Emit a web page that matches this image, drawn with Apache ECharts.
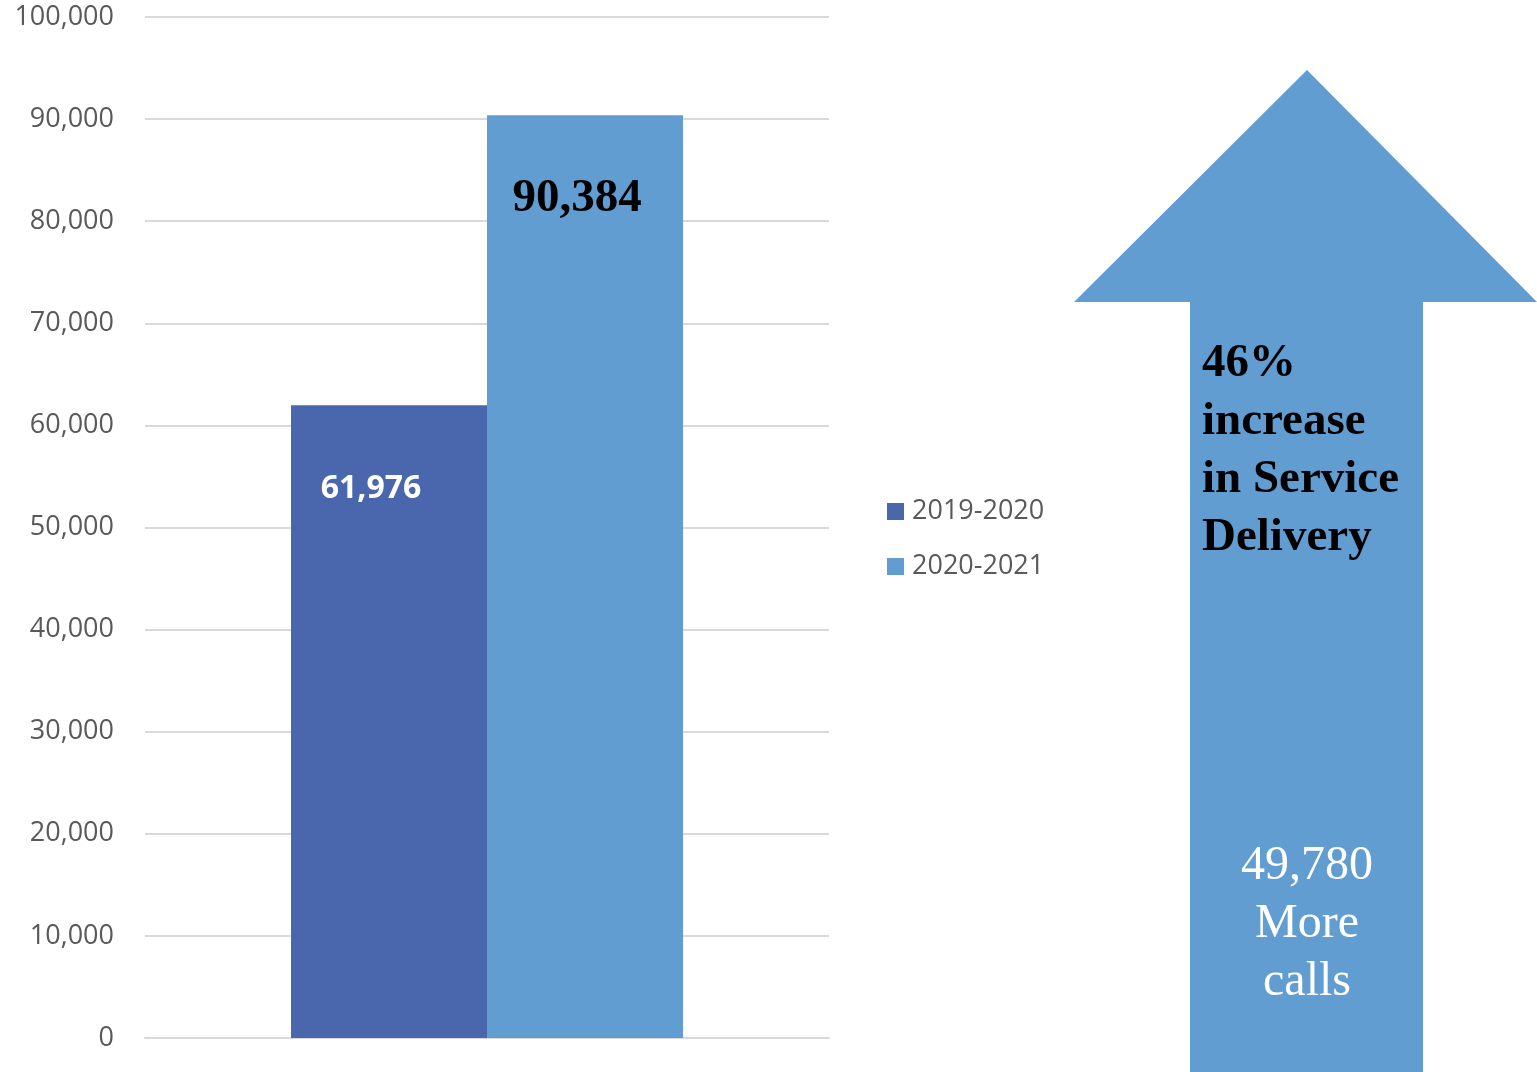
<!DOCTYPE html>
<html><head><meta charset="utf-8">
<script src="https://cdn.jsdelivr.net/npm/echarts@6/dist/echarts.min.js"></script>
<style>html,body{margin:0;padding:0;background:#fff}#c{width:1537px;height:1072px}</style>
</head><body><div id="c"></div>
<script>
const categories = ['Calls'];
const seriesNames = ['2019-2020', '2020-2021'];
const values2019 = [61976];
const values2020 = [90384];
const arrowTop = '46%\nincrease\nin Service\nDelivery';
const arrowBottom = '49,780\nMore\ncalls';

const chart = echarts.init(document.getElementById('c'));
const cLight = '#629DD1', cDark = '#4A66AC';
chart.setOption({
  animation: false,
  grid: {left: 145, right: 708, top: 17, bottom: 34},
  legend: {
    orient: 'vertical', left: 887, top: 498, itemGap: 28, padding: 0,
    itemWidth: 17, itemHeight: 17, icon: 'rect',
    textStyle: {fontFamily: 'Open Sans', fontSize: 27, color: '#595959', padding: [0,0,0,3]},
    data: seriesNames
  },
  xAxis: {type: 'category', data: categories, axisLine: {show: true, lineStyle: {color: '#D9D9D9', width: 2}},
    axisTick: {show: false}, axisLabel: {show: false}},
  yAxis: {type: 'value', min: 0, max: 100000, interval: 10000,
    axisLine: {show: false}, axisTick: {show: false},
    splitLine: {lineStyle: {color: '#D9D9D9', width: 2}},
    axisLabel: {margin: 31, fontFamily: 'Open Sans', fontSize: 27, color: '#595959', padding: [4,0,0,0],
      formatter: v => v.toLocaleString('en-US')}},
  series: [
    {name: seriesNames[0], type: 'bar', data: values2019, barWidth: 196, barGap: '0%',
     itemStyle: {color: cDark},
     label: {show: true, position: 'insideTop', distance: 68, offset: [-18, 0], color: '#fff', fontFamily: 'Open Sans',
       fontWeight: 'bold', fontSize: 32, formatter: p => p.value.toLocaleString('en-US')}},
    {name: seriesNames[1], type: 'bar', data: values2020, barWidth: 196,
     itemStyle: {color: cLight},
     label: {show: true, position: 'insideTop', distance: 60, offset: [-8, 0], color: '#000', fontFamily: 'Liberation Serif',
       fontWeight: 'bold', fontSize: 47, formatter: p => p.value.toLocaleString('en-US')}}
  ],
  graphic: [
    {type: 'polygon', z: 0, shape: {points: [[1074,302],[1307,70],[1537,302],[1423,302],[1423,1072],[1190,1072],[1190,302]]},
     style: {fill: cLight}},
    {type: 'text', left: 1202, top: 335, z: 10, style: {text: arrowTop, font: 'bold 47px "Liberation Serif"',
      fill: '#000', lineHeight: 58}},
    {type: 'text', z: 10, x: 1307, y: 837, style: {text: arrowBottom, font: '48px "Liberation Serif"',
      fill: '#fff', lineHeight: 58, align: 'center', verticalAlign: 'top'}}
  ]
});
</script></body></html>
